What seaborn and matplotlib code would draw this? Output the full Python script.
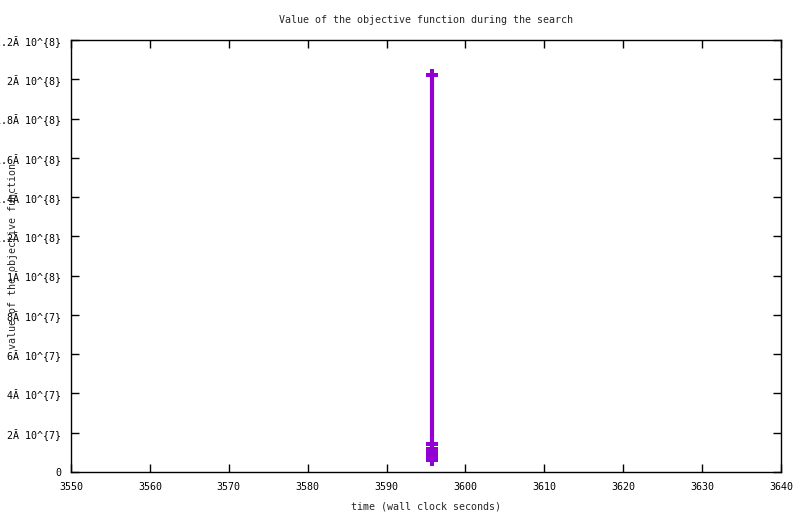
import matplotlib
matplotlib.use("Agg")
import matplotlib.pyplot as plt
import seaborn as sns
import pandas as pd

# data
times = [3595.7, 3595.7, 3595.7, 3595.7, 3595.7, 3595.7]
values = [2.02e8, 1.43e7, 1.18e7, 1.0e7, 8.4e6, 6.3e6]
ytick_vals = [0, 2e7, 4e7, 6e7, 8e7, 1e8, 1.2e8, 1.4e8, 1.6e8, 1.8e8, 2e8, 2.2e8]
ytick_labels = ["0", "2Ă 10^{7}", "4Ă 10^{7}", "6Ă 10^{7}", "8Ă 10^{7}",
                "1Ă 10^{8}", "1.2Ă 10^{8}", "1.4Ă 10^{8}", "1.6Ă 10^{8}",
                "1.8Ă 10^{8}", "2Ă 10^{8}", "2.2Ă 10^{8}"]
xtick_vals = list(range(3550, 3641, 10))

df = pd.DataFrame({"time": times, "value": values})

sns.set_style("ticks")
plt.rcParams['font.family'] = ['DejaVu Sans Mono', 'DejaVu Sans']

fig = plt.figure(figsize=(8, 5.14), dpi=100)
ax = fig.add_axes([0.08875, 0.0817, 0.8875, 0.8405])

sns.lineplot(data=df, x="time", y="value", estimator=None, sort=False,
             color="#9400D3", linewidth=3, marker="P", markersize=8,
             markeredgewidth=0, ax=ax)

ax.set_xlim(3550, 3640)
ax.set_ylim(0, 2.2e8)
ax.set_xticks(xtick_vals)
ax.set_yticks(ytick_vals)
ax.set_yticklabels(ytick_labels)
ax.tick_params(direction="in", length=6, width=1, labelsize=7.2,
               top=True, right=True, pad=7, colors="black")
for s in ax.spines.values():
    s.set_linewidth(1)
    s.set_color("black")

ax.set_title("Value of the objective function during the search", fontsize=7.2, pad=12)
ax.set_xlabel("time (wall clock seconds)", fontsize=7.2, labelpad=7)
ax.set_ylabel("value of the objective function", fontsize=7.2)
ax.yaxis.set_label_coords(-0.0745, 0.5)

fig.savefig("out.png", dpi=100)
